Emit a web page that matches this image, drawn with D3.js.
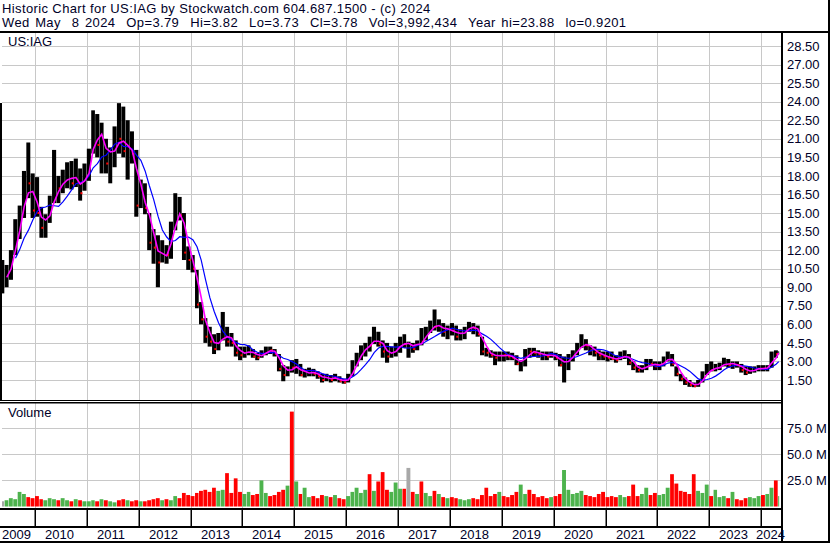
<!DOCTYPE html>
<html>
<head>
<meta charset="utf-8">
<script src="https://cdn.jsdelivr.net/npm/d3@7"></script>
<style>
body { margin: 0; background: #fff; }
svg { display: block; font-family: "Liberation Sans", Arial, sans-serif; }
</style>
</head>
<body>
<div id="chart"></div>
<script>
/******************************data***************************************/
var title1 = "Historic Chart for US:IAG by Stockwatch.com 604.687.1500 - (c) 2024";
var title2 = "Wed May  8 2024  Op=3.79  Hi=3.82  Lo=3.73  Cl=3.78  Vol=3,992,434  Year hi=23.88  lo=0.9201";
var symbol = "US:IAG";

var firstMonth = new Date(2009, 4, 1);   // bars are monthly, May 2009 .. May 2024
var lastDay = new Date(2024, 4, 9);
var yearTicks = [2010, 2011, 2012, 2013, 2014, 2015, 2016, 2017, 2018, 2019, 2020, 2021, 2022, 2023, 2024];
var yearLabels = ["2009", "2010", "2011", "2012", "2013", "2014", "2015", "2016", "2017", "2018", "2019", "2020", "2021", "2022", "2023", "2024"];
var priceTicks = [1.5, 3, 4.5, 6, 7.5, 9, 10.5, 12, 13.5, 15, 16.5, 18, 19.5, 21, 22.5, 24, 25.5, 27, 28.5];
var volTicks = [25e6, 50e6, 75e6];

var high = [
  11.2, 10.8, 12.0, 14.5, 15.6, 18.4, 20.7, 18.2,                      // 2009
  17.9, 15.5, 14.9, 16.4, 20.1, 18.0, 18.5, 19.1, 19.2, 19.4, 18.6, 19.0, // 2010
  20.2, 23.3, 23.0, 22.3, 21.0, 20.3, 22.0, 23.88, 23.6, 22.5, 21.6, 20.1, // 2011
  17.7, 17.4, 15.0, 13.7, 13.2, 12.8, 12.4, 14.3, 16.6, 16.3, 15.0, 12.3, // 2012
  11.6, 10.4, 7.8, 6.5, 5.8, 5.2, 5.3, 7.0, 5.8, 5.3, 4.7, 4.2,         // 2013
  4.2, 4.3, 4.0, 3.7, 3.9, 4.2, 4.2, 4.0, 3.6, 2.7, 2.6, 3.1,           // 2014
  3.2, 2.8, 2.4, 2.5, 2.4, 2.2, 2.0, 2.0, 1.9, 2.0, 1.8, 1.6,           // 2015
  2.0, 3.1, 3.7, 4.3, 4.5, 5.0, 5.8, 5.4, 4.7, 4.5, 4.2, 4.5,           // 2016
  5.0, 5.2, 4.6, 4.5, 4.7, 5.7, 5.8, 6.3, 7.2, 6.4, 6.1, 5.9,           // 2017
  6.1, 5.9, 5.6, 5.8, 6.2, 6.1, 5.9, 5.0, 4.1, 3.9, 3.8, 3.8,           // 2018
  3.8, 3.8, 3.7, 3.5, 3.1, 4.0, 4.1, 4.1, 3.9, 3.8, 3.8, 3.8,           // 2019
  3.7, 3.6, 3.4, 3.6, 3.9, 4.5, 5.2, 4.8, 4.3, 4.2, 3.9, 3.8,           // 2020
  3.8, 3.8, 3.5, 3.8, 3.9, 3.6, 3.0, 2.7, 2.7, 3.2, 3.2, 3.0,           // 2021
  3.0, 3.4, 3.8, 3.6, 2.6, 2.0, 1.7, 1.5, 1.3, 1.5, 2.2, 2.8,           // 2022
  3.0, 2.8, 2.9, 3.3, 3.2, 3.0, 3.0, 2.8, 2.6, 2.6, 2.6, 2.7,           // 2023
  2.7, 2.7, 3.8, 3.9, 3.82                                              // 2024
];
var low = [
  8.5, 9.0, 9.6, 11.6, 12.9, 14.6, 16.2, 14.6,
  14.7, 13.0, 13.0, 14.2, 15.8, 15.8, 16.6, 17.0, 16.9, 17.1, 16.0, 16.8,
  17.6, 19.8, 19.5, 18.2, 18.2, 17.4, 18.7, 19.8, 19.5, 17.7, 19.0, 14.7,
  15.4, 14.9, 12.0, 10.9, 9.0, 11.0, 10.9, 11.3, 13.6, 14.4, 11.2, 10.4,
  10.2, 7.3, 6.0, 4.5, 4.2, 3.6, 3.9, 4.7, 4.2, 4.2, 3.4, 3.1,
  3.3, 3.5, 3.3, 3.1, 3.3, 3.5, 3.6, 3.4, 2.2, 1.4, 1.8, 2.1,
  2.0, 1.8, 1.7, 1.8, 1.8, 1.6, 1.3, 1.4, 1.3, 1.4, 1.3, 1.2,
  1.3, 1.8, 2.6, 3.1, 3.4, 3.8, 4.4, 4.2, 3.3, 2.9, 3.3, 3.4,
  3.7, 4.1, 3.3, 3.7, 3.9, 4.3, 4.7, 5.3, 5.5, 5.4, 5.0, 4.8,
  5.1, 4.7, 4.7, 4.8, 5.4, 5.2, 5.0, 3.5, 3.4, 3.3, 2.7, 3.0,
  3.0, 3.1, 3.1, 2.7, 2.2, 2.6, 3.3, 3.4, 3.3, 3.1, 3.1, 3.3,
  3.1, 2.6, 1.3, 2.3, 3.0, 3.5, 4.1, 3.9, 3.5, 3.4, 3.1, 3.1,
  3.0, 3.1, 2.9, 3.1, 3.2, 2.7, 2.3, 2.1, 2.1, 2.3, 2.6, 2.3,
  2.3, 2.6, 3.0, 2.6, 1.8, 1.4, 1.1, 0.95, 0.92, 0.95, 1.3, 1.9,
  2.2, 2.2, 2.3, 2.6, 2.5, 2.4, 2.5, 2.1, 1.9, 2.0, 2.1, 2.2,
  2.2, 2.2, 2.5, 3.3, 3.55
];
var close = [
  9.4, 10.2, 11.8, 14.0, 14.9, 17.6, 17.4, 15.2,
  15.0, 13.8, 14.5, 16.0, 17.2, 17.0, 17.8, 18.2, 17.4, 18.0, 16.6, 18.2,
  19.8, 22.4, 20.5, 21.2, 19.0, 19.6, 21.4, 21.0, 20.0, 20.4, 19.8, 15.6,
  16.6, 15.4, 12.6, 12.2, 11.0, 12.0, 11.6, 14.0, 16.0, 14.8, 11.8, 11.2,
  10.5, 7.6, 6.4, 5.0, 4.6, 4.0, 4.8, 5.6, 4.6, 4.5, 3.7, 3.5,
  3.8, 4.0, 3.4, 3.3, 3.7, 4.0, 3.9, 3.6, 2.4, 1.9, 2.6, 2.5,
  2.6, 1.9, 2.1, 2.2, 2.0, 1.8, 1.5, 1.8, 1.5, 1.7, 1.4, 1.3,
  1.8, 2.9, 3.4, 4.0, 4.4, 4.3, 5.2, 4.4, 3.8, 3.4, 3.8, 4.2,
  4.6, 4.4, 4.4, 4.0, 4.7, 4.6, 5.6, 6.0, 5.8, 5.9, 5.4, 5.6,
  5.5, 5.0, 5.3, 5.6, 6.0, 5.7, 5.2, 3.8, 3.7, 3.5, 3.3, 3.6,
  3.5, 3.4, 3.3, 2.8, 2.9, 3.9, 3.8, 3.7, 3.6, 3.5, 3.4, 3.6,
  3.3, 2.7, 2.9, 3.4, 3.7, 4.2, 4.6, 4.3, 3.9, 3.7, 3.5, 3.4,
  3.3, 3.2, 3.1, 3.5, 3.6, 2.9, 2.5, 2.3, 2.4, 2.9, 2.8, 2.6,
  2.7, 3.2, 3.5, 2.8, 2.0, 1.6, 1.3, 1.1, 1.0, 1.3, 2.0, 2.5,
  2.3, 2.5, 2.7, 3.0, 2.7, 2.8, 2.7, 2.3, 2.1, 2.3, 2.4, 2.5,
  2.4, 2.5, 3.7, 3.6, 3.78
];
// volume in millions of shares
var volume = [
  5, 6, 8, 7, 14, 12, 9, 8,
  10, 7, 6, 8, 7, 6, 8, 6, 5, 7, 6, 5,
  5, 6, 5, 7, 6, 5, 4, 6, 7, 6, 5, 6,
  5, 5, 6, 7, 8, 6, 7, 6, 10, 8, 13, 11,
  10, 13, 15, 16, 14, 18, 15, 16, 32, 13, 27, 14,
  12, 14, 11, 12, 25, 13, 10, 11, 14, 16, 20, 91,
  24, 12, 18, 9, 10, 8, 11, 10, 9, 11, 8, 7,
  10, 14, 18, 13, 16, 31, 15, 24, 33, 16, 14, 23,
  17, 17, 37, 14, 12, 24, 13, 10, 15, 12, 9, 8,
  9, 8, 7, 6, 7, 8, 7, 11, 18, 10, 12, 14,
  10, 9, 11, 14, 21, 12, 16, 12, 9, 10, 8, 9,
  10, 12, 35, 16, 12, 13, 15, 11, 10, 9, 12, 14,
  9, 10, 9, 11, 9, 10, 21, 10, 12, 18, 11, 13,
  11, 12, 18, 31, 22, 15, 14, 12, 31, 15, 13, 21,
  10, 16, 9, 10, 8, 14, 7, 6, 8, 9, 8, 10,
  11, 12, 18, 25, 10
];

/******************************draw***************************************/
var width = 830, height = 543;
var left = 2, right = 781;
var priceTop = 33, priceBottom = 400;
var volTop = 403, volBottom = 508;

var svg = d3.select("#chart").append("svg")
	.attr("width", width)
	.attr("height", height);

var txtColor = "#000028";
var gridColor = "#c8c8c8";

var x = d3.scaleTime()
	.domain([new Date(2010, 0, 1), new Date(2024, 0, 1)])
	.range([35, 761]);
var yP = d3.scaleLinear().domain([1.5, 28.5]).range([380, 46]);
var yV = d3.scaleLinear().domain([0, 75e6]).range([506.5, 428.3]);

var bars = close.map(function(c, i) {
	var start = d3.timeMonth.offset(firstMonth, i);
	var end = d3.timeMonth.offset(firstMonth, i + 1);
	if (end > lastDay) end = lastDay;
	return {
		x0: Math.max(left, x(start)),
		x1: Math.min(right, x(end)),
		hi: high[i], lo: low[i], cl: c,
		prev: i > 0 ? close[i - 1] : c,
		vol: volume[i] * 1e6
	};
});

function sma(n, from) {
	return close.map(function(c, i) {
		if (i < from) return null;
		return d3.mean(close.slice(Math.max(0, i - n + 1), i + 1));
	});
}
var maShort = sma(3, 1);
var maLong = sma(7, 3);

svg.append("defs").append("clipPath").attr("id", "clipPrice")
	.append("rect").attr("x", left).attr("y", priceTop).attr("width", right - left).attr("height", priceBottom - priceTop);

// header
svg.append("text").attr("x", 2).attr("y", 13).attr("fill", txtColor)
	.style("font-size", "13px").style("letter-spacing", "0.38px").text(title1);
svg.append("text").attr("x", 2).attr("y", 27).attr("fill", txtColor)
	.style("font-size", "13px").style("letter-spacing", "0.38px").style("word-spacing", "1.5px")
	.style("white-space", "pre").attr("xml:space", "preserve").text(title2);

// grid
var grid = svg.append("g").attr("stroke", gridColor).attr("stroke-width", 1);
grid.selectAll(".hp").data(priceTicks).enter().append("line")
	.attr("x1", left).attr("x2", right)
	.attr("y1", function(d) { return Math.round(yP(d)) + 0.5; })
	.attr("y2", function(d) { return Math.round(yP(d)) + 0.5; });
grid.selectAll(".hv").data(volTicks).enter().append("line")
	.attr("x1", left).attr("x2", right)
	.attr("y1", function(d) { return Math.round(yV(d)) + 0.5; })
	.attr("y2", function(d) { return Math.round(yV(d)) + 0.5; });
grid.selectAll(".vp").data(yearTicks).enter().append("line")
	.attr("x1", function(d) { return Math.round(x(new Date(d, 0, 1))) + 0.5; })
	.attr("x2", function(d) { return Math.round(x(new Date(d, 0, 1))) + 0.5; })
	.attr("y1", priceTop).attr("y2", priceBottom);
grid.selectAll(".vv").data(yearTicks).enter().append("line")
	.attr("x1", function(d) { return Math.round(x(new Date(d, 0, 1))) + 0.5; })
	.attr("x2", function(d) { return Math.round(x(new Date(d, 0, 1))) + 0.5; })
	.attr("y1", volTop).attr("y2", volBottom);

// panel labels
svg.append("text").attr("x", 8).attr("y", 46).attr("fill", txtColor)
	.style("font-size", "13px").text(symbol);
svg.append("text").attr("x", 8).attr("y", 417).attr("fill", txtColor)
	.style("font-size", "13px").text("Volume");

// price bars
var pg = svg.append("g").attr("clip-path", "url(#clipPrice)");
pg.selectAll(".bar").data(bars).enter().append("rect")
	.attr("x", function(d) { return d.x0; })
	.attr("width", function(d) { return Math.max(1, d.x1 - d.x0 - 0.3); })
	.attr("y", function(d) { return yP(d.hi); })
	.attr("height", function(d) { return Math.max(1, yP(d.lo) - yP(d.hi)); })
	.attr("fill", "#000");
pg.selectAll(".tick").data(bars.filter(function(d) { return d.cl < d.prev; })).enter().append("rect")
	.attr("x", function(d) { return d.x1 - 2; })
	.attr("width", 2)
	.attr("y", function(d) { return yP(d.cl) - 1; })
	.attr("height", 2)
	.attr("fill", "#ff0000");

// moving averages
function maLine(vals) {
	return d3.line()
		.defined(function(d, i) { return vals[i] != null; })
		.x(function(d) { return (d.x0 + d.x1) / 2; })
		.y(function(d, i) { return yP(vals[i]); })(bars);
}
pg.append("path").attr("d", maLine(maLong))
	.attr("fill", "none").attr("stroke", "#0000ff").attr("stroke-width", 1.2);
pg.append("path").attr("d", maLine(maShort))
	.attr("fill", "none").attr("stroke", "#ff00ff").attr("stroke-width", 1.6);

// volume bars
svg.append("g").selectAll("rect").data(bars).enter().append("rect")
	.attr("x", function(d) { return d.x0; })
	.attr("width", function(d) { return Math.max(1, d.x1 - d.x0 - 0.5); })
	.attr("y", function(d) { return yV(d.vol); })
	.attr("height", function(d) { return yV(0) - yV(d.vol); })
	.attr("fill", function(d) {
		if (d.cl < d.prev) return "#ff0000";
		if (d.cl > d.prev) return "#4db34d";
		return "#a8a8a8";
	});

// frame lines
var frame = svg.append("g").attr("fill", "#000");
frame.append("rect").attr("x", 0).attr("y", 31).attr("width", width).attr("height", 2);
frame.append("rect").attr("x", 0).attr("y", 103).attr("width", 2).attr("height", 297);
frame.append("rect").attr("x", 0).attr("y", 400).attr("width", right).attr("height", 1);
frame.append("rect").attr("x", 0).attr("y", 402).attr("width", right).attr("height", 1.5);
frame.append("rect").attr("x", 0).attr("y", 508).attr("width", right).attr("height", 2);
frame.append("rect").attr("x", 0).attr("y", 526).attr("width", right).attr("height", 2);
frame.append("rect").attr("x", 0).attr("y", 541).attr("width", width).attr("height", 2);
frame.append("rect").attr("x", 781).attr("y", 31).attr("width", 2).attr("height", height - 31);
frame.append("rect").attr("x", 828).attr("y", 0).attr("width", 2).attr("height", height);
frame.selectAll(".yt").data(yearTicks).enter().append("rect")
	.attr("x", function(d) { return Math.round(x(new Date(d, 0, 1))) - 0.5; })
	.attr("y", 510).attr("width", 1.5).attr("height", 16);

// axes labels
var yAxisP = d3.axisRight(yP).tickValues(priceTicks).tickFormat(d3.format(".2f")).tickSize(0).tickPadding(0);
svg.append("g").attr("transform", "translate(787,0)").call(yAxisP)
	.call(function(g) { g.select(".domain").remove(); })
	.selectAll("text").attr("fill", txtColor).style("font-size", "13px")
	.style("font-family", "'Liberation Sans', Arial, sans-serif");

var yAxisV = d3.axisRight(yV).tickValues(volTicks)
	.tickFormat(function(d) { return d3.format(".1f")(d / 1e6) + " M"; })
	.tickSize(0).tickPadding(0);
svg.append("g").attr("transform", "translate(787,0)").call(yAxisV)
	.call(function(g) { g.select(".domain").remove(); })
	.selectAll("text").attr("fill", txtColor).style("font-size", "13px")
	.style("font-family", "'Liberation Sans', Arial, sans-serif");

svg.append("g").selectAll("text").data(yearLabels).enter().append("text")
	.attr("x", function(d, i) {
		if (i == 0) return 2;
		var xx = Math.round(x(new Date(+d, 0, 1))) + 10;
		return Math.min(xx, 756);
	})
	.attr("y", 539)
	.attr("fill", txtColor)
	.style("font-size", "13px")
	.text(function(d) { return d; });
</script>
</body>
</html>
